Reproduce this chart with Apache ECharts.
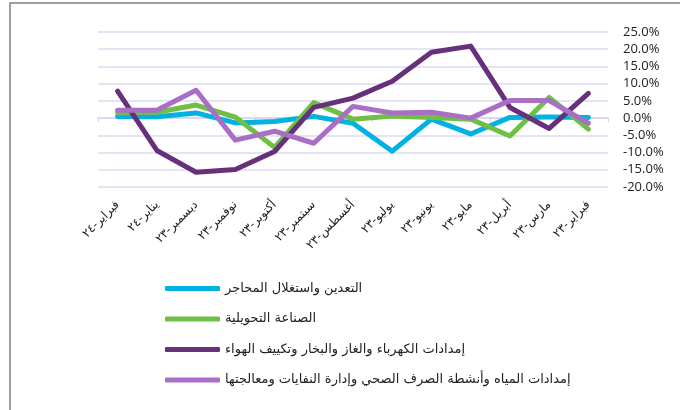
<!DOCTYPE html>
<html>
<head>
<meta charset="utf-8">
<script src="https://cdn.jsdelivr.net/npm/echarts@6/dist/echarts.min.js"></script>
<style>
  html, body { margin: 0; padding: 0; background: #fff; }
  #main { width: 680px; height: 410px; }
</style>
</head>
<body>
<div id="main"></div>
<script>
// months, Feb-23 first (axis drawn right to left)
var months = ["فبراير-٢٣", "مارس-٢٣", "أبريل-٢٣", "مايو-٢٣", "يونيو-٢٣", "يوليو-٢٣", "أغسطس-٢٣",
              "سبتمبر-٢٣", "أكتوبر-٢٣", "نوفمبر-٢٣", "ديسمبر-٢٣", "يناير-٢٤", "فبراير-٢٤"];

var seriesNames = ["التعدين واستغلال المحاجر", "الصناعة التحويلية",
                   "إمدادات الكهرباء والغاز والبخار وتكييف الهواء",
                   "إمدادات المياه وأنشطة الصرف الصحي وإدارة النفايات ومعالجتها"];

var mining      = [0.2, 0.3, 0.2, -4.6, -0.3, -9.6, -1.5, 0.5, -1.0, -1.4, 1.5, 0.4, 0.5];
var manufacture = [-3.2, 6.0, -5.2, -0.3, 0.2, 0.6, -0.3, 4.5, -8.5, 0.3, 3.8, 1.7, 1.5];
var electricity = [7.2, -3.0, 3.1, 20.9, 19.1, 10.7, 5.8, 3.1, -9.7, -14.9, -15.7, -9.4, 7.8];
var water       = [-1.5, 5.1, 5.1, 0.0, 1.7, 1.5, 3.4, -7.3, -3.8, -6.4, 8.1, 2.3, 2.3];

var colors = ["#00b2e2", "#6fbe45", "#66307a", "#a86fc4"];
var values = [mining, manufacture, electricity, water];

var chart = echarts.init(document.getElementById("main"));

var series = values.map(function (v, i) {
    return {
        name: seriesNames[i],
        type: "line",
        data: v,
        symbol: "none",
        lineStyle: { width: 5, color: colors[i], cap: "round", join: "round" },
        itemStyle: { color: colors[i] },
        xAxisIndex: 0
    };
});

chart.setOption({
    animation: false,
    textStyle: { fontFamily: "DejaVu Sans" },
    graphic: [{
        type: "rect",
        shape: { x: 10, y: 3, width: 700, height: 430 },
        style: { fill: null, stroke: "#808080", lineWidth: 1.5 }
    }],
    grid: { left: 98, right: 72, top: 32, bottom: 223 },
    legend: {
        orient: "vertical",
        left: 160,
        top: 277,
        itemWidth: 55,
        itemHeight: 5,
        itemGap: 17.5,
        icon: "roundRect",
        textStyle: { fontSize: 13, color: "#222", fontFamily: "DejaVu Sans" },
        data: seriesNames
    },
    xAxis: [{
        type: "category",
        data: months,
        inverse: true,
        axisLine: { onZero: true, lineStyle: { color: "#d6d4ec", width: 1.5 } },
        axisTick: { show: true, length: 4, lineStyle: { color: "#d6d4ec" } },
        axisLabel: { show: false }
    }, {
        type: "category",
        data: months,
        inverse: true,
        position: "bottom",
        axisLine: { show: false, onZero: false },
        axisTick: { show: false },
        axisLabel: { rotate: 45, margin: 16, fontSize: 12, color: "#222", interval: 0 }
    }],
    yAxis: {
        type: "value",
        position: "right",
        min: -20,
        max: 25,
        interval: 5,
        axisLine: { show: false },
        axisTick: { show: false },
        splitLine: { lineStyle: { color: "#dcdaf0", width: 1.5 } },
        axisLabel: {
            margin: 15,
            fontSize: 13,
            color: "#222",
            fontFamily: "Open Sans",
            formatter: function (v) { return v.toFixed(1) + "%"; }
        }
    },
    series: series
});
</script>
</body>
</html>
